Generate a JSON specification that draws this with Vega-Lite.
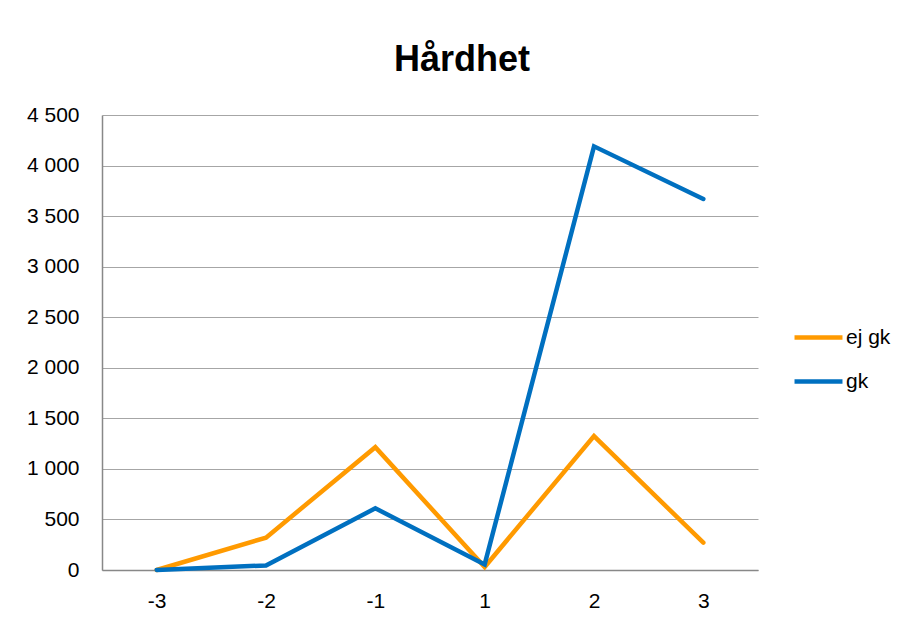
{
  "$schema": "https://vega.github.io/schema/vega-lite/v6.json",
  "width": 656,
  "height": 455,
  "autosize": {"type": "none"},
  "padding": {"left": 102, "top": 115, "right": 148, "bottom": 52},
  "background": "white",
  "title": {
    "text": "Hårdhet",
    "font": "Liberation Sans",
    "fontSize": 36,
    "fontWeight": "bold",
    "color": "black",
    "anchor": "middle",
    "dx": 32,
    "offset": 25
  },
  "data": {
    "values": [
      {"x": "-3", "serie": "ej gk", "v": 0},
      {"x": "-2", "serie": "ej gk", "v": 320},
      {"x": "-1", "serie": "ej gk", "v": 1215},
      {"x": "1", "serie": "ej gk", "v": 30},
      {"x": "2", "serie": "ej gk", "v": 1325},
      {"x": "3", "serie": "ej gk", "v": 270},
      {"x": "-3", "serie": "gk", "v": 0},
      {"x": "-2", "serie": "gk", "v": 45},
      {"x": "-1", "serie": "gk", "v": 610},
      {"x": "1", "serie": "gk", "v": 55},
      {"x": "2", "serie": "gk", "v": 4190},
      {"x": "3", "serie": "gk", "v": 3670}
    ]
  },
  "mark": {"type": "line", "strokeWidth": 4.5, "strokeCap": "round", "strokeJoin": "miter"},
  "encoding": {
    "x": {
      "field": "x",
      "type": "ordinal",
      "sort": ["-3", "-2", "-1", "1", "2", "3"],
      "scale": {"padding": 0.5},
      "axis": {
        "title": null,
        "labelAngle": 0,
        "ticks": false,
        "grid": false,
        "domainColor": "#888888",
        "domainWidth": 1.5,
        "labelPadding": 20,
        "labelFont": "Liberation Sans",
        "labelFontSize": 21,
        "labelColor": "black"
      }
    },
    "y": {
      "field": "v",
      "type": "quantitative",
      "scale": {"domain": [0, 4500], "nice": false},
      "axis": {
        "title": null,
        "values": [0, 500, 1000, 1500, 2000, 2500, 3000, 3500, 4000, 4500],
        "labelExpr": "replace(format(datum.value, ','), ',', ' ')",
        "ticks": false,
        "grid": true,
        "gridColor": "#A6A6A6",
        "gridWidth": 1,
        "domainColor": "#888888",
        "domainWidth": 1.5,
        "labelPadding": 23,
        "labelFont": "Liberation Sans",
        "labelFontSize": 21,
        "labelColor": "black"
      }
    },
    "color": {
      "field": "serie",
      "type": "nominal",
      "scale": {"domain": ["ej gk", "gk"], "range": ["#FF9A00", "#0070C0"]},
      "legend": {
        "title": null,
        "orient": "none",
        "legendX": 690,
        "legendY": 196,
        "padding": 0,
        "symbolType": "stroke",
        "symbolSize": 2300,
        "symbolStrokeWidth": 4.5,
        "rowPadding": 7,
        "labelOffset": 1,
        "labelFont": "Liberation Sans",
        "labelFontSize": 21,
        "labelColor": "black"
      }
    }
  },
  "config": {
    "view": {"stroke": null}
  }
}
